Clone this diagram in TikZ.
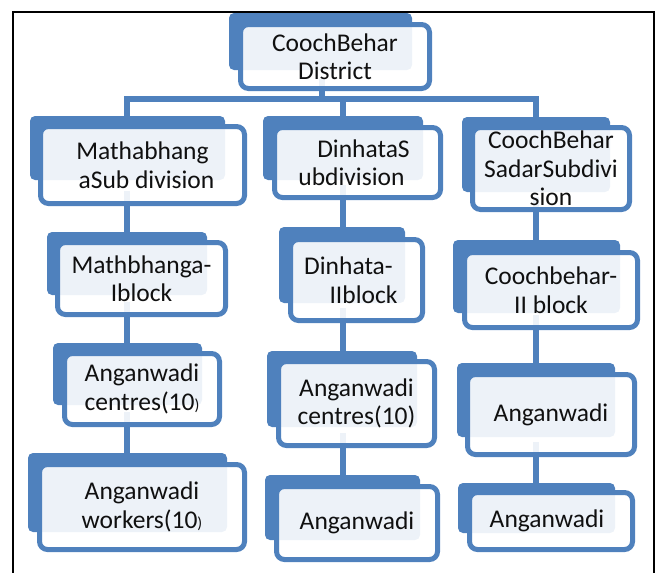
\documentclass[tikz,border=0pt]{standalone}
\usepackage{fontspec}
\setmainfont{Carlito}
\usetikzlibrary{calc}
\definecolor{ob}{HTML}{4F81BD}
\definecolor{txt}{HTML}{101010}
\pgfdeclarelayer{bg}
\pgfdeclarelayer{mid}
\pgfsetlayers{bg,mid,main}
\begin{document}
\begin{tikzpicture}[x=1pt,y=-1pt,
  fbox/.style={draw=ob, line width=5pt, rounded corners=8pt, fill=white, fill opacity=0.9,
    text opacity=1, text=txt, align=center, inner sep=0pt,
    font=\fontsize{25.5}{28.5}\selectfont},
  conn/.style={draw=ob, line width=5.5pt},
  bk/.style={fill=ob, rounded corners=5pt}]
\useasboundingbox (0,0) rectangle (659,573);
\draw[line width=1.5pt] (13,573) -- (13,12) -- (654,12) -- (654,573);

% front boxes
\node[fbox, minimum width=189pt, minimum height=64pt] (T) at (335,56.5) {CoochBehar\\District};

\node[fbox, minimum width=204pt, minimum height=77pt] (M1) at (142.5,165) {Mathabhang\\\hspace*{8pt}aSub division};
\node[fbox, minimum width=168pt, minimum height=72pt] (M2) at (141.5,278.5) {Mathbhanga-\\Iblock};
\node[fbox, minimum width=155pt, minimum height=71pt] (M3) at (142,389) {Anganwadi\\centres(10{\fontsize{16}{16}\selectfont)}};
\node[fbox, minimum width=205pt, minimum height=85pt] (M4) at (142,507) {Anganwadi\\workers(10{\fontsize{16}{16}\selectfont)}};

\node[fbox, minimum width=166pt, minimum height=70pt] (D1) at (357.5,162.5) {\hspace*{12pt}DinhataS\\ubdivision\hspace*{12pt}};
\node[fbox, minimum width=132pt, minimum height=81pt] (D2) at (356.5,280) {Dinhata-\hspace*{16pt}\\\hspace*{14pt}IIblock};
\node[fbox, minimum width=156pt, minimum height=84pt] (D3) at (356.5,403.5) {Anganwadi\\centres(10)};
\node[fbox, minimum width=161pt, minimum height=73pt] (D4) at (357,523) {Anganwadi};

\node[fbox, minimum width=157pt, minimum height=82pt] (C1) at (551,168.5) {CoochBehar\\SadarSubdivi\\sion};
\node[fbox, minimum width=173pt, minimum height=75pt] (C2) at (551,290) {Coochbehar-\\II block};
\node[fbox, minimum width=167pt, minimum height=80pt] (C3) at (551,414.5) {Anganwadi};
\node[fbox, minimum width=163pt, minimum height=57pt] (C4) at (551,521) {\hspace*{-8pt}Anganwadi};

% back plates
\begin{pgfonlayer}{mid}
\fill[bk] (229,13) rectangle (412,70);
\fill[bk] (30,116) rectangle (225,180);
\fill[bk] (47,232) rectangle (207,295);
\fill[bk] (53,343) rectangle (202,405);
\fill[bk] (28,453) rectangle (227,532);
\fill[bk] (263,116) rectangle (423,180);
\fill[bk] (279,227) rectangle (405,303);
\fill[bk] (267,351) rectangle (417,427);
\fill[bk] (265,475) rectangle (420,540);
\fill[bk] (462,117) rectangle (610,192);
\fill[bk] (453,240) rectangle (620,313);
\fill[bk] (457,363) rectangle (615,437);
\fill[bk] (458,483) rectangle (615,533);
\end{pgfonlayer}

% connectors
\coordinate (tc) at (322,0);
\coordinate (lx) at (127,0);
\coordinate (mx) at (343,0);
\coordinate (rx) at (536,0);
\coordinate (bar) at (0,99);
\begin{pgfonlayer}{bg}
\draw[conn] ($(T.south -| tc)+(0,-12)$) -- (tc |- bar);
\draw[conn] (M1.north -| lx) -- (lx |- bar) -- (rx |- bar) -- (C1.north -| rx);
\draw[conn] (mx |- bar) -- (D1.north -| mx);
\draw[conn] ($(M1.south -| lx)+(0,-15)$) -- (M2.north -| lx);
\draw[conn] ($(M2.south -| lx)+(0,-15)$) -- (M3.north -| lx);
\draw[conn] ($(M3.south -| lx)+(0,-15)$) -- (M4.north -| lx);
\draw[conn] ($(D1.south -| mx)+(0,-15)$) -- (D2.north -| mx);
\draw[conn] ($(D2.south -| mx)+(0,-15)$) -- (D3.north -| mx);
\draw[conn] ($(D3.south -| mx)+(0,-15)$) -- (D4.north -| mx);
\draw[conn] ($(C1.south -| rx)+(0,-15)$) -- (C2.north -| rx);
\draw[conn] ($(C2.south -| rx)+(0,-15)$) -- (C3.north -| rx);
\draw[conn] ($(C3.south -| rx)+(0,-15)$) -- (C4.north -| rx);
\end{pgfonlayer}
\end{tikzpicture}
\end{document}
